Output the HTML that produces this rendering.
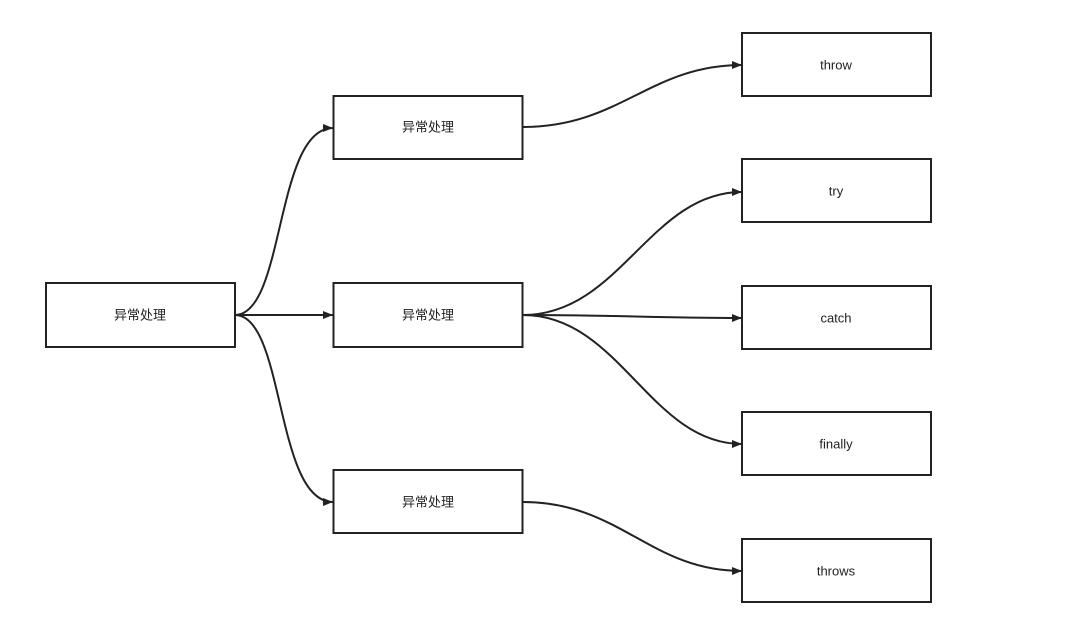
<!DOCTYPE html>
<html><head><meta charset="utf-8"><style>
html,body{margin:0;padding:0;background:#fff;}
svg{display:block}
text{font-family:"Liberation Sans","Noto Sans CJK SC",sans-serif;font-size:13px;fill:#222;}
</style></head><body>
<svg width="1080" height="638" viewBox="0 0 1080 638">
<defs><marker id="a" markerWidth="10" markerHeight="8" refX="10" refY="4" orient="auto" markerUnits="userSpaceOnUse"><path d="M0,0 L10,4 L0,8 Z" fill="#222"/></marker></defs>
<g fill="#fff" stroke="#222" stroke-width="2">
<rect x="46" y="283" width="189" height="64"/>
<rect x="333.5" y="96" width="189" height="63"/>
<rect x="333.5" y="283" width="189" height="64"/>
<rect x="333.5" y="470" width="189" height="63"/>
<rect x="742" y="33" width="189" height="63"/>
<rect x="742" y="159" width="189" height="63"/>
<rect x="742" y="286" width="189" height="63"/>
<rect x="742" y="412" width="189" height="63"/>
<rect x="742" y="539" width="189" height="63"/>
</g>
<g fill="none" stroke="#222" stroke-width="2" marker-end="url(#a)">
<path d="M235,315 C285,315 275,128 333,128"/>
<path d="M235,315 L333,315"/>
<path d="M235,315 C285,315 275,502 333,502"/>
<path d="M523,127 C620,127 650,65 742,65"/>
<path d="M523,315 C620,315 650,192 742,192"/>
<path d="M523,315 C620,315 650,318 742,318"/>
<path d="M523,315 C620,315 650,444 742,444"/>
<path d="M523,502 C620,502 650,571 742,571"/>
</g>
<g text-anchor="middle" dominant-baseline="central">
<text x="140" y="315">异常处理</text>
<text x="428" y="127">异常处理</text>
<text x="428" y="315">异常处理</text>
<text x="428" y="502">异常处理</text>
<text x="836" y="65">throw</text>
<text x="836" y="191">try</text>
<text x="836" y="318">catch</text>
<text x="836" y="444">finally</text>
<text x="836" y="571">throws</text>
</g>
</svg>
</body></html>
